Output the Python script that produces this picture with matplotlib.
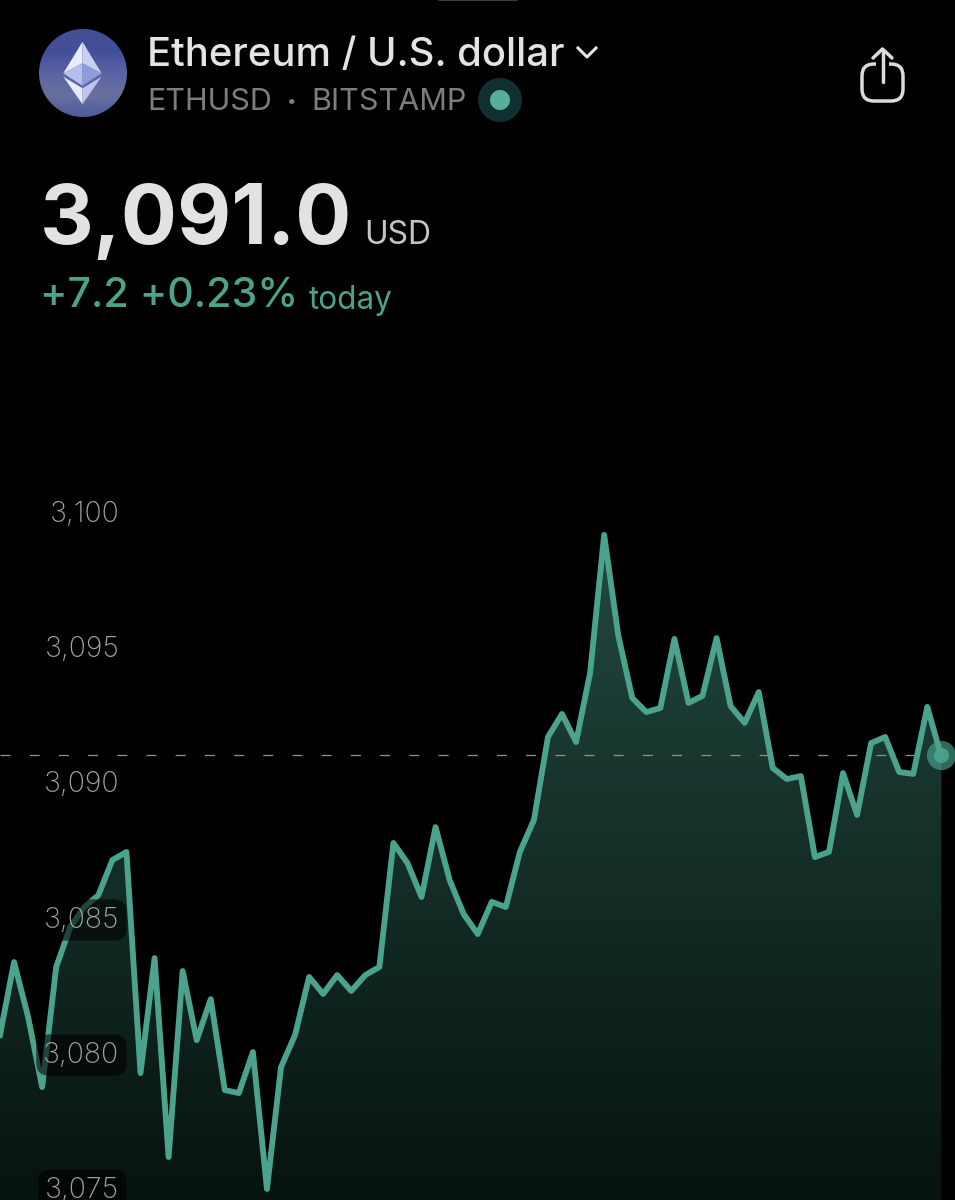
import numpy as np
import matplotlib
matplotlib.use("Agg")
import matplotlib.pyplot as plt
from matplotlib.colors import LinearSegmentedColormap
from matplotlib.patches import Circle, Polygon, FancyBboxPatch, PathPatch
from matplotlib.path import Path

plt.rcParams['font.family'] = ['Inter', 'Roboto', 'DejaVu Sans']

# prices, one per step
prices = [
    3080.63, 3083.33, 3081.30, 3078.70, 3083.15, 3084.63, 3085.37, 3085.81, 3087.11, 3087.41,
    3079.22, 3083.48, 3076.11, 3083.00, 3080.44, 3081.96, 3078.59, 3078.48, 3080.00, 3074.93,
    3079.44, 3080.63, 3082.78, 3082.15, 3082.85, 3082.26, 3082.85, 3083.15, 3087.74, 3087.00,
    3085.74, 3088.33, 3086.37, 3085.11, 3084.37, 3085.56, 3085.37, 3087.41, 3088.59, 3091.67,
    3092.52, 3091.48, 3094.04, 3099.15, 3095.44, 3093.11, 3092.59, 3092.74, 3095.30, 3092.93,
    3093.19, 3095.33, 3092.81, 3092.19, 3093.33, 3090.52, 3090.11, 3090.22, 3087.22, 3087.41,
    3090.33, 3088.78, 3091.44, 3091.67, 3090.37, 3090.30, 3092.78, 3090.93,
]
last_price = 3091.0
y_ticks = [3100, 3095, 3090, 3085, 3080, 3075]
y_tick_labels = ["3,100", "3,095", "3,090", "3,085", "3,080", "3,075"]

GREEN = "#4ba38e"
steps = np.arange(len(prices))

fig = plt.figure(figsize=(9.55, 12), dpi=100, facecolor="black")

# price chart fills the whole picture, the header sits in its empty top part
ax = fig.add_axes([0, 0, 1, 1], facecolor="black")
cmap = LinearSegmentedColormap.from_list("fade", ["#21493f", "#07130f"])
grad = np.linspace(0, 1, 256).reshape(-1, 1)
img = ax.imshow(grad, cmap=cmap, aspect="auto", zorder=0,
                extent=(0, len(prices) - 1, 3074.5, max(prices)))
area = ax.fill_between(steps, prices, 3070, color="none", zorder=0)
img.set_clip_path(area.get_paths()[0], transform=ax.transData)

ax.axhline(last_price, color="#909090", lw=0.9, dashes=(10 / 0.9 * 0.72, 19.2 / 0.9 * 0.72), zorder=1)
ax.plot(steps, prices, color=GREEN, lw=4.2, solid_joinstyle="round", zorder=2)
ax.plot(steps[-1], last_price, "o", ms=21, color=GREEN, alpha=0.65, mew=0, zorder=3, clip_on=False)
ax.plot(steps[-1], last_price, "o", ms=11, color=GREEN, alpha=0.9, mew=0, zorder=3)

ax.set_xlim(0, 67.97)
ax.set_ylim(3074.52, 3118.96)
ax.set_xticks([])
ax.set_yticks(y_ticks)
ax.set_yticklabels(y_tick_labels)
ax.set_axisbelow(False)
ax.tick_params(axis="y", length=0, pad=-86, labelsize=20.5, labelcolor="#a2a2a2")
for lbl in ax.get_yticklabels():
    lbl.set_fontweight("light")
    lbl.set_bbox(dict(boxstyle="round,pad=0.25,rounding_size=0.45", fc=(0, 0, 0, 0.58), ec="none"))
for s in ax.spines.values():
    s.set_visible(False)

# overlay in pixel coordinates for the app header
hd = fig.add_axes([0, 0, 1, 1], facecolor="none")
hd.set_xlim(0, 955)
hd.set_ylim(1200, 0)
hd.axis("off")

hd.add_patch(FancyBboxPatch((437, -4), 82, 5, boxstyle="round,pad=0,rounding_size=3", fc="#3d3d3d", ec="none"))

# coin logo
coin_cmap = LinearSegmentedColormap.from_list(
    "coin", ["#454f93", "#434e99", "#5a64a3", "#69709f", "#4f5a9c"])
coin = hd.imshow(grad, cmap=coin_cmap, aspect="auto", extent=(39, 127, 117, 29), zorder=1)
coin_clip = Circle((83, 73), 44, fc="none", ec="none", transform=hd.transData)
hd.add_patch(coin_clip)
coin.set_clip_path(coin_clip)
hd.set_xlim(0, 955)
hd.set_ylim(1200, 0)
top, left, right, mid_low = (82.5, 41.7), (63.3, 73.3), (101.5, 73.3), (82.5, 85.7)
inner_top = (82.5, 63.3)
hd.add_patch(Polygon([top, left, inner_top], fc="#e8ecfb", ec="none", zorder=2))
hd.add_patch(Polygon([top, right, inner_top], fc="#c9d1f1", ec="none", zorder=2))
hd.add_patch(Polygon([inner_top, left, mid_low], fc="#b6c0ee", ec="none", zorder=2))
hd.add_patch(Polygon([inner_top, right, mid_low], fc="#8f9cde", ec="none", zorder=2))
hd.add_patch(Polygon([(63.3, 76.7), (82.5, 88.3), (82.5, 104.3)], fc="#e6eafb", ec="none", zorder=2))
hd.add_patch(Polygon([(101.5, 76.7), (82.5, 88.3), (82.5, 104.3)], fc="#bcc6ef", ec="none", zorder=2))

hd.text(147, 55, "Ethereum / U.S. dollar", color="#e4e4e4", fontsize=28.8, fontweight="medium", va="center")
hd.plot([578, 587, 596], [48, 57, 48], color="#e4e4e4", lw=2.2)
hd.text(147, 102, "ETHUSD", color="#7d7d7d", fontsize=22, va="center")
hd.text(287, 102, "•", color="#7d7d7d", fontsize=12, va="center")
hd.text(311, 102, "BITSTAMP", color="#7d7d7d", fontsize=22, va="center")
hd.add_patch(Circle((500, 100), 22, fc="#0f2f30", ec="none"))
hd.add_patch(Circle((500, 100), 10, fc="#55b09a", ec="none"))

# share icon, box is open at the top where the arrow passes
share_verts = [(876, 64), (874, 64), (862, 64), (862, 76), (862, 89), (862, 101), (874, 101),
               (891, 101), (903, 101), (903, 89), (903, 76), (903, 64), (891, 64), (889, 64)]
share_codes = [Path.MOVETO, Path.LINETO, Path.CURVE3, Path.CURVE3, Path.LINETO, Path.CURVE3, Path.CURVE3,
               Path.LINETO, Path.CURVE3, Path.CURVE3, Path.LINETO, Path.CURVE3, Path.CURVE3, Path.LINETO]
hd.add_patch(PathPatch(Path(share_verts, share_codes), fc="none", ec="#dcdcdc", lw=2.5))
hd.plot([882.5, 882.5], [50, 82], color="#dcdcdc", lw=2.5, solid_capstyle="round")
hd.plot([873, 882.5, 892], [58, 49, 58], color="#dcdcdc", lw=2.5, solid_capstyle="round")

hd.text(40, 222, "3,091.0", color="#e2e2e2", fontsize=60, fontweight="bold", va="center")
hd.text(364, 236, "USD", color="#c4c4c4", fontsize=23, va="center")
hd.text(40, 296, "+7.2 +0.23%", color=GREEN, fontsize=29.6, fontweight="medium", va="center")
hd.text(309, 300, "today", color=GREEN, fontsize=22.7, va="center")

fig.savefig("out.png", dpi=100, facecolor="black")
